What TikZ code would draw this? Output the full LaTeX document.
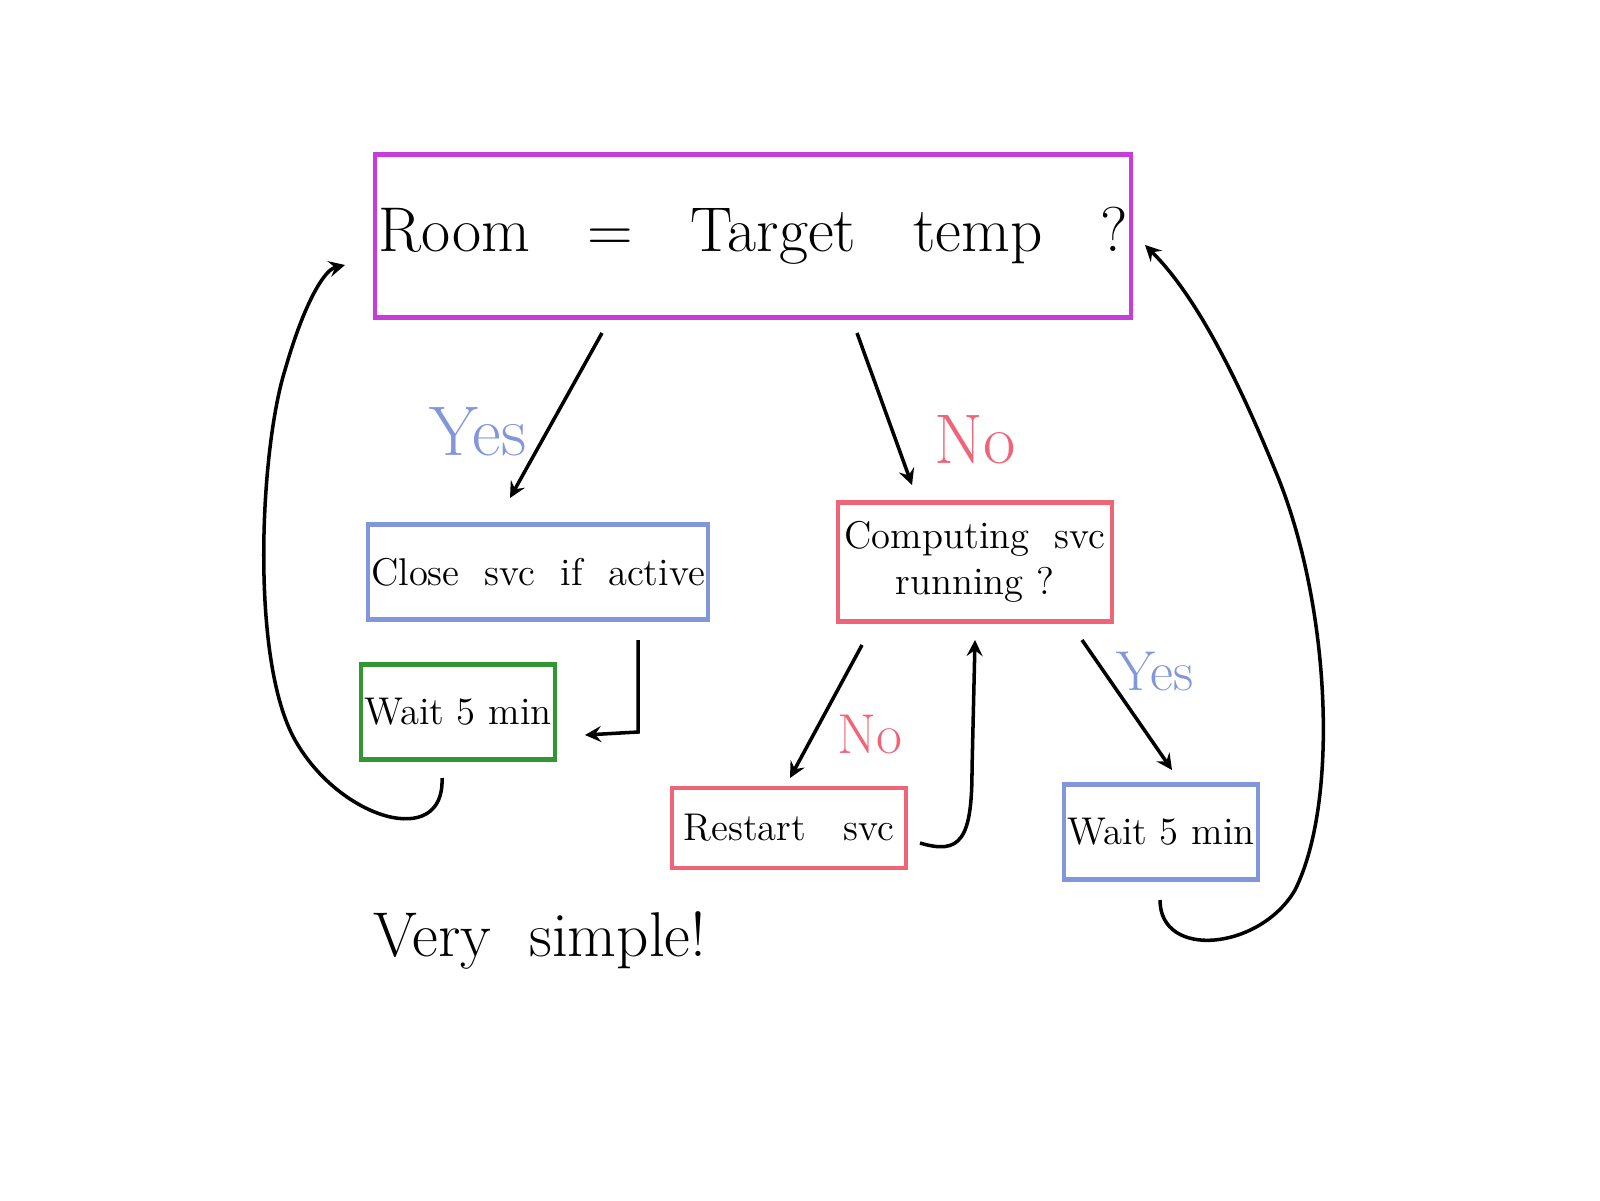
\documentclass[tikz,border=0pt]{standalone}
\usepackage{tikz}
\usetikzlibrary{positioning}
\definecolor{tmag}{RGB}{200,60,220}
\definecolor{tblue}{RGB}{130,150,220}
\definecolor{tred}{RGB}{240,100,120}
\definecolor{tgreen}{RGB}{50,150,50}
\tikzset{
  box/.style={draw, line width=1.2pt, align=center, inner sep=1pt},
  flow/.style={-stealth, line width=1pt},
  lbl/.style={font=\fontsize{20}{22}\selectfont}
}
\begin{document}
\begin{tikzpicture}
  \useasboundingbox (0,0) rectangle (16,12);
  \node[box, tmag, text=black, minimum width=7.5cm, minimum height=1.63cm,
    font=\fontsize{18}{20}\selectfont] (room) at (7.53,9.64)
    {Room \ \ = \ \ Target \ \ temp \ \ ?};
  \node[box, tblue, text=black, minimum width=3.24cm, minimum height=0.95cm,
    font=\fontsize{11}{13}\selectfont] (close) at (5.38,6.28) {Close \ svc \ if \ active};
  \node[box, tgreen, text=black, minimum width=1.8cm, minimum height=0.95cm,
    font=\fontsize{11}{13}\selectfont] (waitl) at (4.58,4.88) {Wait 5 min};
  \node[box, tred, text=black, minimum width=2.74cm, minimum height=1.19cm,
    font=\fontsize{11}{13}\selectfont] (comp) at (9.75,6.38) {Computing \ svc\\running ?};
  \node[box, tred, text=black, minimum width=2.34cm, minimum height=0.8cm,
    font=\fontsize{11}{13}\selectfont] (restart) at (7.89,3.72) {Restart \ \ svc};
  \node[box, tblue, text=black, minimum width=1.7cm, minimum height=0.95cm,
    font=\fontsize{11}{13}\selectfont] (waitr) at (11.61,3.68) {Wait 5 min};

  \node[lbl, tblue] (yes1) at (4.78,7.68) {Yes};
  \node[lbl, tred] (no1) at (9.75,7.6) {No};
  \node[lbl, tred, font=\fontsize{16}{18}\selectfont] (no2) at (8.7,4.65) {No};
  \node[lbl, tblue, font=\fontsize{16}{18}\selectfont] (yes2) at (11.55,5.28) {Yes};
  \node[font=\fontsize{18}{20}\selectfont] (simple) at (5.4,2.6) {Very \ simple!};

  \coordinate (a1) at (6.02,8.67);
  \coordinate (a2) at (8.57,8.67);
  \coordinate (c1) at (6.38,5.6);
  \coordinate (c2) at (5.85,4.65);
  \coordinate (w1) at (4.42,4.22);
  \coordinate (w2) at (3.45,9.35);
  \coordinate (p1) at (8.62,5.55);
  \coordinate (p2) at (10.82,5.6);
  \coordinate (r1) at (9.2,3.57);
  \coordinate (r2) at (9.75,5.6);
  \coordinate (v1) at (11.6,3.0);
  \coordinate (v2) at (11.45,9.55);

  \draw[flow] (a1) -- (5.1,7.02);
  \draw[flow] (a2) -- (9.12,7.15);
  \draw[flow] (c1) -- (6.38,4.68) -- (c2);
  \draw[flow] (w1) .. controls (4.45,3.5) and (3.4,3.8) .. (2.95,4.6)
    .. controls (2.5,5.4) and (2.6,7.5) .. (2.85,8.3)
    .. controls (3.05,9) and (3.25,9.3) .. (w2);
  \draw[flow] (p1) -- (7.9,4.22);
  \draw[flow] (r1) .. controls (9.6,3.45) and (9.72,3.6) .. (9.72,4.3) -- (r2);
  \draw[flow] (p2) -- (11.72,4.3);
  \draw[flow] (v1) .. controls (11.6,2.4) and (12.6,2.5) .. (12.95,3.1)
    .. controls (13.4,4) and (13.3,6.0) .. (12.75,7.3)
    .. controls (12.3,8.4) and (11.9,9.1) .. (v2);
\end{tikzpicture}
\end{document}
